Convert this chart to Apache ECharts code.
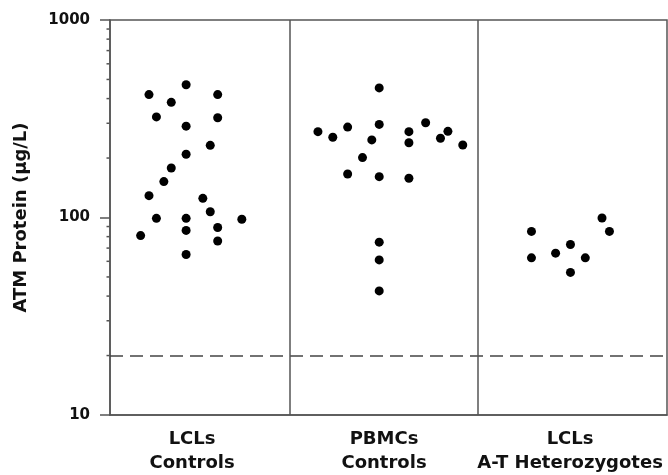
<!DOCTYPE html>
<html>
<head>
<meta charset="utf-8">
<script src="https://cdn.jsdelivr.net/npm/echarts@6/dist/echarts.min.js"></script>
<style>html,body{margin:0;padding:0;background:#fff}#c{width:668px;height:475px}</style>
</head>
<body>
<div id="c"></div>
<script>
var categories = ['LCLs\nControls', 'PBMCs\nControls', 'LCLs\nA-T Heterozygotes'];
var categoryCenters = [0.442, 1.476, 2.478];   // label positions on the 0..3 x scale
var panelDividers = [0.973, 1.982];             // vertical separators on the 0..3 x scale
var yTicks = [10, 100, 1000];
var threshold = 20;
// [x position within plot (0..3), ATM protein µg/L]
var lclControls = [
  [0.41, 470], [0.21, 419], [0.58, 419], [0.33, 383], [0.25, 323], [0.58, 320],
  [0.41, 290], [0.54, 232], [0.41, 209], [0.33, 178], [0.29, 152], [0.21, 129],
  [0.50, 125], [0.54, 107], [0.25, 99], [0.41, 99], [0.71, 98], [0.41, 86],
  [0.58, 89], [0.165, 81], [0.58, 76], [0.41, 65]
];
var pbmcControls = [
  [1.45, 453], [1.45, 296], [1.12, 272], [1.20, 255], [1.28, 287], [1.41, 247],
  [1.36, 201], [1.28, 166], [1.45, 161], [1.61, 158], [1.61, 272], [1.61, 239],
  [1.70, 302], [1.78, 252], [1.82, 273], [1.90, 233], [1.45, 75], [1.45, 61],
  [1.45, 42.5]
];
var atHeterozygotes = [
  [2.27, 85], [2.27, 62.5], [2.40, 66], [2.48, 73], [2.56, 62.5], [2.48, 52.7],
  [2.65, 99.4], [2.69, 85]
];
var minorTickValues = [20, 30, 40, 50, 60, 70, 80, 90, 200, 300, 400, 500, 600, 700, 800, 900];

var lineColor = '#555';
var font = 'DejaVu Sans, Liberation Sans, Arial, sans-serif';
var dot = { type: 'scatter', symbol: 'circle', symbolSize: 9,
  itemStyle: { color: '#000', opacity: 1 }, silent: true };

var chart = echarts.init(document.getElementById('c'), null, { renderer: 'canvas' });
chart.setOption({
  animation: false,
  backgroundColor: '#fff',
  grid: { left: 110, right: 1, top: 20, bottom: 58, show: true,
    borderColor: lineColor, borderWidth: 1.5, backgroundColor: 'transparent' },
  xAxis: {
    type: 'value', min: 0, max: 3,
    axisLine: { show: true, lineStyle: { color: lineColor, width: 1.5 } },
    axisTick: { show: false },
    splitLine: { show: false },
    axisLabel: { customValues: categoryCenters, color: '#111', fontFamily: font,
      fontWeight: 'bold', fontSize: 18, lineHeight: 24, margin: 12,
      formatter: function (v) {
        var best = 0;
        for (var i = 1; i < categoryCenters.length; i++) {
          if (Math.abs(categoryCenters[i] - v) < Math.abs(categoryCenters[best] - v)) best = i;
        }
        return categories[best];
      } }
  },
  yAxis: {
    type: 'log', logBase: 10, min: yTicks[0], max: yTicks[yTicks.length - 1],
    name: 'ATM Protein (μg/L)', nameLocation: 'middle', nameGap: 80,
    nameTextStyle: { color: '#111', fontFamily: font, fontWeight: 'bold', fontSize: 18 },
    axisLine: { show: true, lineStyle: { color: lineColor, width: 1.5 } },
    axisTick: { show: true, length: 10, lineStyle: { color: lineColor, width: 1.5 } },
    splitLine: { show: false },
    axisLabel: { color: '#111', fontFamily: font, fontWeight: 'bold', fontSize: 15, margin: 20,
      formatter: function (v) { return yTicks.indexOf(Math.round(v)) >= 0 ? String(Math.round(v)) : ''; } }
  },
  series: [
    Object.assign({}, dot, { data: lclControls,
      markLine: { silent: true, symbol: 'none', label: { show: false },
        lineStyle: { color: '#444', width: 1.5, type: [13, 7] },
        data: [{ yAxis: threshold }] } }),
    Object.assign({}, dot, { data: pbmcControls,
      markLine: { silent: true, symbol: 'none', label: { show: false },
        lineStyle: { color: lineColor, width: 1.5, type: 'solid' },
        data: panelDividers.map(function (x) { return { xAxis: x }; }) } }),
    Object.assign({}, dot, { data: atHeterozygotes }),
    { type: 'scatter', silent: true, clip: false,
      symbol: 'rect', symbolSize: [3, 1.5], symbolOffset: [-2, 0],
      itemStyle: { color: lineColor, opacity: 1 },
      data: minorTickValues.map(function (v) { return [0, v]; }) }
  ]
});
</script>
</body>
</html>
